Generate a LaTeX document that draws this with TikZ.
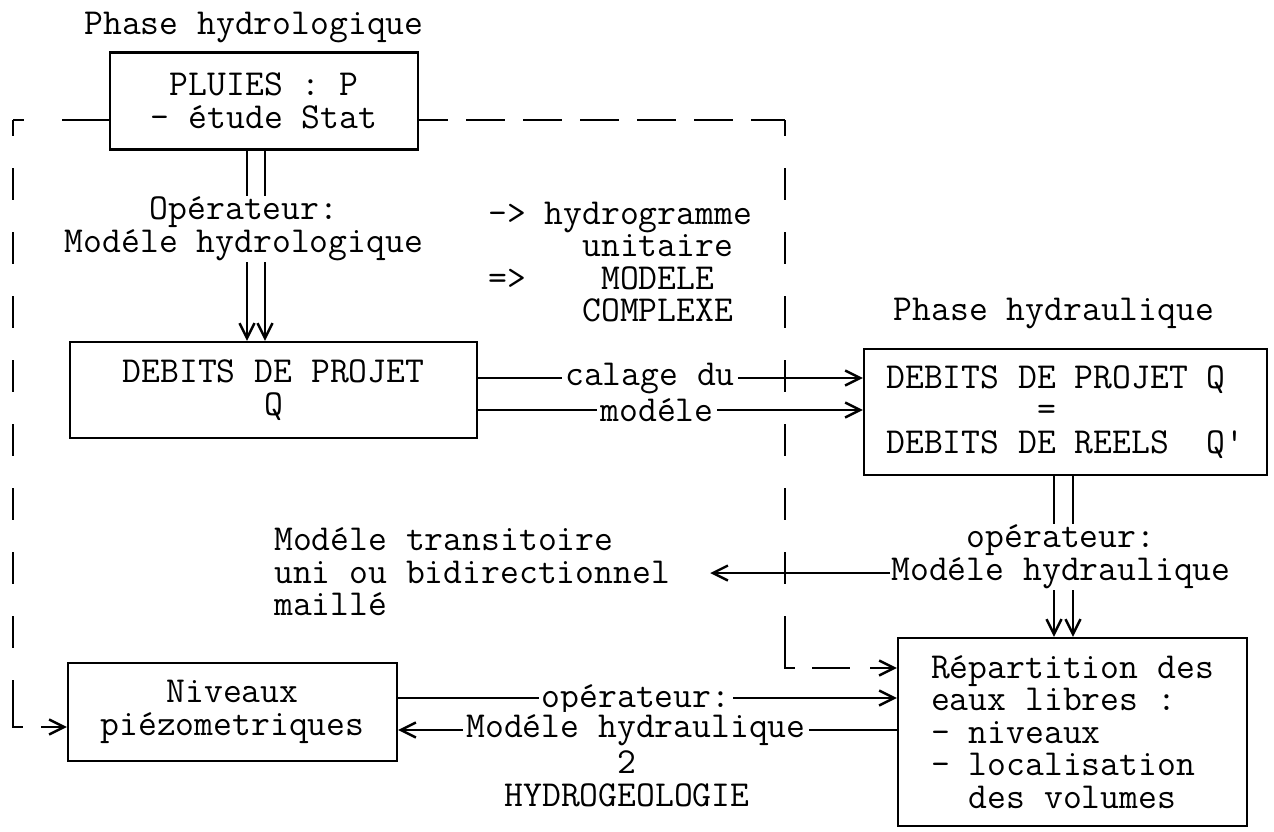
\documentclass[tikz,border=0pt]{standalone}
\usepackage{fontspec}
\usepackage{tikz}
\usetikzlibrary{arrows.meta,calc,positioning}

\begin{document}
\begin{tikzpicture}[x=0.5pt,y=-0.5pt,line width=1.2pt,
	font=\ttfamily\fontsize{18.3}{16.3}\selectfont,
	>={Straight Barb[length=7.5pt,width=7.5pt]},
	box/.style={draw,fill=white,align=center,inner sep=0pt},
	txt/.style={align=center,inner sep=0pt},
	onl/.style={fill=white,inner xsep=1.5pt,inner ysep=1pt},
	hdash/.style={dash pattern=on 19.5pt off 9pt},
	vdash/.style={dash pattern=on 16pt off 16pt,dash phase=8pt}]
\useasboundingbox (0,0) rectangle (1274,831);
%phase hydrologique
\node[txt] (ph1) at (254,28) {Phase hydrologique};
\node[box,minimum width=154pt,minimum height=48.5pt] (pluies) at (264,101) {PLUIES : P\\— étude Stat};
\node[txt] (op1) at (244,229) {Opérateur:\\Modéle hydrologique};
\node[box,minimum width=203.5pt,minimum height=48pt] (debits) at (273.5,390) {DEBITS DE PROJET\\Q};
\node[txt,anchor=west,align=left] (hydro) at (487,262)
	{–> hydrogramme\\\hphantom{xxxxx}unitaire\\=>\hphantom{xxxx}MODELE\\\hphantom{xxxxx}COMPLEXE};
%phase hydraulique
\node[txt] (ph2) at (1054,313) {Phase hydraulique};
\node[box,align=left,minimum width=201.5pt,minimum height=63pt] (reel) at (1065.5,412)
	{DEBITS DE PROJET Q\\\hphantom{DEBITS D}=\\DEBITS DE REELS\hphantom{xx}Q\textquotesingle};
\node[txt] (op2) at (1061,557) {opérateur:\\Modéle hydraulique};
\node[txt,anchor=west,align=left] (trans) at (273,572) {Modéle transitoire\\uni ou bidirectionnel\\maillé};
\node[box,align=left,minimum width=174.5pt,minimum height=94pt] (repart) at (1072.5,732)
	{Répartition des\\eaux libres :\\– niveaux\\– localisation\\\hphantom{xx}des volumes};
%hydrogeologie
\node[box,minimum width=164.5pt,minimum height=49pt] (niveaux) at (232.5,712) {Niveaux\\piézometriques};

\coordinate (a1) at (247,0); \coordinate (a2) at (265,0);
\coordinate (b1) at (1054,0); \coordinate (b2) at (1073,0);
\coordinate (y1) at (0,378); \coordinate (y2) at (0,410);
\coordinate (y3) at (0,698); \coordinate (y4) at (0,730);
\coordinate (y5) at (0,573);
\coordinate (tl) at (13,120); \coordinate (tr) at (785,120);
\coordinate (bl) at (13,727); \coordinate (br) at (785,668);
\coordinate (blv) at (13,712); \coordinate (brv) at (785,648);

%operateurs
\draw (pluies.south -| a1) -- (op1.north -| a1);
\draw (pluies.south -| a2) -- (op1.north -| a2);
\draw[->] (op1.south -| a1) -- (debits.north -| a1);
\draw[->] (op1.south -| a2) -- (debits.north -| a2);
\draw (reel.south -| b1) -- (op2.north -| b1);
\draw (reel.south -| b2) -- (op2.north -| b2);
\draw[->] (op2.south -| b1) -- (repart.north -| b1);
\draw[->] (op2.south -| b2) -- (repart.north -| b2);
\draw[->,shorten >=19.5pt] (op2.west |- y5) -- (trans.east |- y5);

%calage
\draw[->] (debits.east |- y1) -- (reel.west |- y1);
\draw[->] (debits.east |- y2) -- (reel.west |- y2);
\node[onl] (cal1) at (650,378) {calage du};
\node[onl] (cal2) at (657,410) {modéle};

%niveaux <-> repartition
\draw[->] (niveaux.east |- y3) -- (repart.west |- y3);
\draw[->] (repart.west |- y4) -- (niveaux.east |- y4);
\node[onl] (op3) at (636,700) {opérateur:};
\node[onl] (op4) at (636,730) {Modéle hydraulique};
\node[txt] (hg) at (627,779) {2\\HYDROGEOLOGIE};

%cadre en tirets
\draw[dash pattern=on 23.5pt off 19pt on 8pt] (pluies.west |- tl) -- (tl);
\draw[vdash] (tl) -- (blv);
\draw[->,dash pattern=on 12.5pt off 9pt on 20pt] (blv) -- (bl) -- (niveaux.west |- bl);
\draw[hdash,dash phase=5pt] (pluies.east |- tr) -- (tr);
\draw[vdash] (tr) -- (brv);
\draw[->,dash pattern=on 15pt off 8.5pt on 19pt off 10pt on 20pt] (brv) -- (br) -- (repart.west |- br);
\end{tikzpicture}
\end{document}
